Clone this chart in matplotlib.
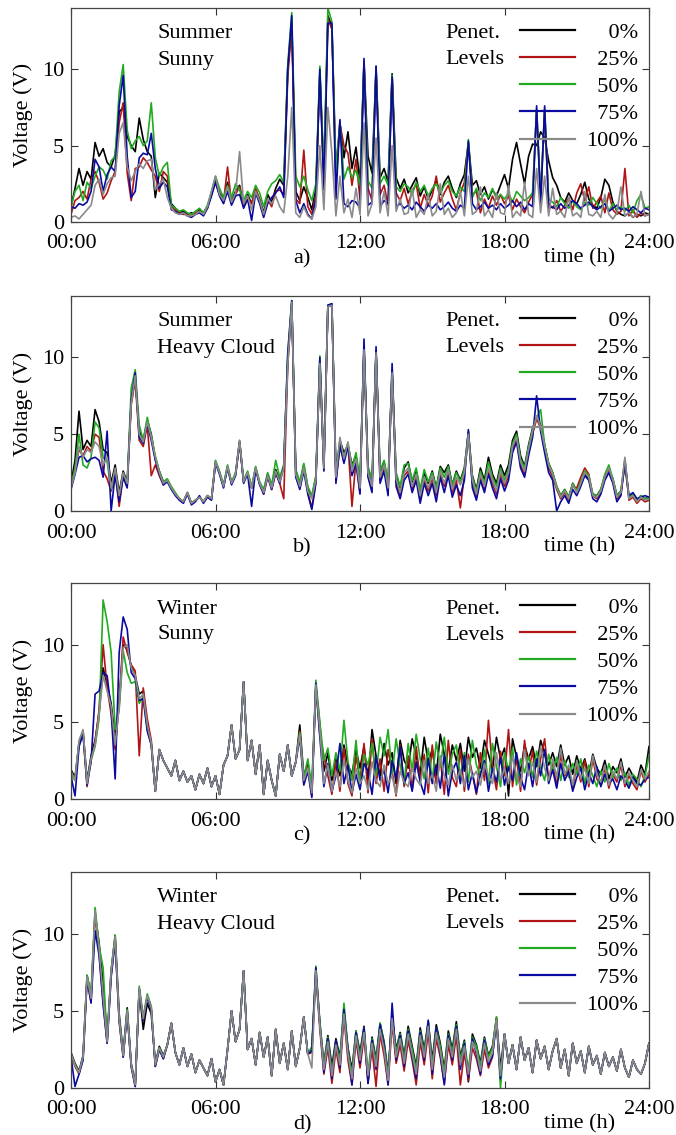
import numpy as np
import matplotlib
matplotlib.use('Agg')
import matplotlib.pyplot as plt

plt.rcParams['font.family'] = 'serif'
plt.rcParams['font.serif'] = ['Liberation Serif', 'DejaVu Serif']

# voltage samples every 10 min, 00:00 .. 24:00 (145 values per series)
levels = ['0%', '25%', '50%', '75%', '100%']
level_labels = ['    0%', '  25%', '  50%', '  75%', '100%']
colors = ['#000000', '#b01515', '#22aa22', '#0a0aa0', '#8a8a8a']
panel_titles = [('Summer', 'Sunny'), ('Summer', 'Heavy Cloud'), ('Winter', 'Sunny'), ('Winter', 'Heavy Cloud')]
panel_tags = ['a)', 'b)', 'c)', 'd)']
tick_hours = [0, 6, 12, 18, 24]
tick_names = ['00:00', '06:00', '12:00', '18:00', '24:00']

# ---- a) summer sunny
a_0 = [1.0, 2.2, 3.5, 2.4, 3.3, 2.8,
       5.2, 4.3, 4.8, 3.9, 3.6, 4.4,
       7.2, 7.5, 5.6, 5.0, 4.6, 6.8,
       5.4, 4.6, 4.3, 1.6, 3.2, 2.9,
       2.6, 1.2, 0.9, 0.6, 0.7, 0.5,
       0.6, 0.5, 0.8, 0.6, 1.0, 1.8,
       2.8, 1.9, 1.5, 2.6, 1.4, 2.0,
       2.4, 1.1, 1.8, 1.2, 2.1, 1.5,
       0.6, 1.8, 1.3, 2.2, 2.8, 2.4,
       10.0, 13.0, 2.0, 1.4, 2.3, 1.6,
       0.8, 2.2, 9.8, 3.0, 13.5, 12.8,
       2.6, 6.5, 4.2, 5.9, 3.5, 4.9,
       2.6, 10.4, 4.3, 3.2, 10.0, 2.9,
       3.5, 2.6, 9.7, 2.9, 2.2, 2.8,
       1.9, 2.4, 2.9, 1.7, 2.3, 1.5,
       2.1, 2.7, 1.8, 2.6, 3.0, 2.2,
       1.6, 2.5, 3.1, 5.2, 2.4, 2.7,
       1.8, 2.3, 1.5, 2.1, 1.7, 2.4,
       3.1, 2.2, 4.1, 5.2, 3.8, 2.5,
       4.3, 5.1, 5.0, 5.9, 5.5, 4.0,
       2.9, 2.4, 1.6, 1.3, 1.9, 1.4,
       1.2, 1.8, 2.6, 1.5, 1.1, 0.9,
       1.6, 2.8, 2.4, 1.3, 0.7, 0.5,
       0.4, 0.6, 0.3, 0.5, 0.4, 0.6,
       0.5]
a_25 = [0.5, 1.4, 1.6, 2.0, 1.5, 2.8,
        3.3, 2.6, 1.5, 1.9, 2.7, 3.3,
        6.5, 7.8, 3.2, 1.4, 3.5, 3.6,
        4.2, 3.9, 3.4, 3.0, 2.0, 3.3,
        3.0, 1.0, 0.8, 0.6, 0.5, 0.5,
        0.4, 0.6, 0.7, 0.5, 0.9, 1.9,
        2.6, 1.8, 1.3, 3.6, 1.2, 1.8,
        2.3, 1.0, 1.6, 1.2, 2.2, 1.4,
        0.4, 1.5, 1.0, 2.0, 2.1, 1.8,
        9.5, 12.8, 1.5, 1.2, 4.7, 1.0,
        0.5, 1.8, 9.6, 2.5, 13.3, 12.6,
        3.5, 6.4, 5.0, 4.5, 2.4, 4.1,
        1.5, 10.4, 2.2, 1.4, 10.0, 1.8,
        2.4, 1.1, 9.5, 1.9, 1.4, 2.2,
        1.2, 2.0, 2.5, 0.9, 1.8, 1.1,
        1.7, 3.0, 1.3, 1.9, 2.4, 1.5,
        0.8, 1.9, 2.6, 5.1, 1.8, 2.0,
        0.6, 1.5, 0.9, 1.7, 1.1, 1.8,
        1.2, 1.7, 0.8, 1.5, 1.0, 0.6,
        1.3, 1.8, 7.3, 1.5, 7.2, 1.2,
        0.9, 1.4, 0.7, 1.1, 1.6, 0.8,
        1.9, 2.5, 1.4, 2.3, 0.9, 1.3,
        1.7, 0.6, 1.9, 0.8, 0.5, 0.7,
        3.5, 0.4, 0.8, 0.3, 0.6, 0.4,
        0.5]
a_50 = [1.0, 2.0, 2.4, 1.4, 2.6, 2.2,
        3.0, 3.6, 3.4, 2.8, 4.0, 4.3,
        8.5, 10.3, 6.0, 4.8, 5.3, 5.6,
        5.0, 5.3, 7.8, 4.2, 3.0, 3.6,
        3.9, 1.1, 0.9, 0.7, 0.8, 0.6,
        0.5, 0.7, 0.9, 0.6, 1.1, 2.0,
        3.0, 2.2, 1.6, 2.4, 1.6, 2.5,
        2.1, 1.4, 2.0, 1.6, 2.4, 1.9,
        1.0, 2.0, 2.5, 2.7, 3.1, 2.6,
        10.3, 13.7, 3.0, 2.3, 3.0, 2.1,
        1.4, 2.5, 10.2, 3.4, 14.0, 13.1,
        3.2, 6.6, 2.8, 3.6, 2.9, 3.4,
        2.4, 10.5, 2.7, 2.2, 10.2, 2.5,
        3.0, 2.4, 9.6, 2.3, 2.0, 2.5,
        2.3, 1.8, 2.6, 2.0, 2.4, 1.7,
        2.2, 2.5, 1.9, 2.4, 2.7, 2.0,
        1.7, 2.3, 2.0, 5.4, 1.6, 2.2,
        1.4, 1.9, 1.6, 2.2, 1.5, 1.8,
        1.5, 1.9, 1.3, 2.0, 1.7, 1.4,
        1.6, 1.9, 7.4, 1.7, 7.4, 1.5,
        1.3, 1.0, 1.6, 1.2, 0.9, 1.4,
        1.0, 0.8, 1.3, 1.1, 1.6, 1.2,
        0.9, 1.5, 0.7, 1.2, 0.8, 1.0,
        0.7, 1.1, 0.6, 1.4, 1.8, 0.9,
        1.0]
a_75 = [1.0, 0.9, 1.2, 1.1, 1.3, 2.0,
        4.1, 3.6, 2.0, 3.1, 3.6, 3.3,
        7.6, 9.6, 4.3, 1.6, 2.0, 4.2,
        4.5, 4.4, 5.8, 3.5, 2.2, 2.6,
        2.3, 0.8, 0.7, 0.5, 0.6, 0.4,
        0.3, 0.5, 0.6, 0.4, 0.9, 1.7,
        2.6, 1.7, 1.2, 2.0, 1.1, 1.7,
        1.8, 0.9, 1.5, 0.1, 1.9, 1.2,
        0.3, 1.2, 1.6, 1.9, 2.3, 1.6,
        10.0, 13.5, 1.4, 0.6, 1.2, 0.5,
        0.2, 1.5, 10.0, 2.1, 13.0, 13.0,
        1.5, 6.7, 1.2, 1.0, 1.4, 1.3,
        0.9, 10.7, 1.1, 1.3, 10.2, 1.0,
        1.4, 1.2, 9.5, 1.0, 1.2, 0.9,
        1.1, 0.8, 1.3, 1.0, 0.7, 1.1,
        0.9, 1.2, 0.8, 1.0, 1.3, 0.9,
        0.7, 1.1, 0.9, 5.3, 1.2, 0.8,
        1.0, 1.3, 0.9, 1.1, 0.8, 1.2,
        0.9, 1.1, 1.4, 1.0, 1.3, 0.8,
        1.2, 1.0, 7.6, 1.1, 7.6, 0.9,
        1.0, 0.8, 1.2, 0.9, 1.1, 1.4,
        1.2, 0.9, 1.1, 1.3, 1.0, 0.8,
        1.0, 1.2, 0.7, 0.9, 1.1, 0.8,
        0.9, 0.7, 1.0, 0.8, 0.6, 0.9,
        0.8]
a_100 = [0.3, 0.4, 0.2, 0.5, 0.8, 1.1,
         2.4, 2.8, 1.8, 2.5, 2.9, 3.0,
         5.8, 6.5, 3.6, 2.7, 3.3, 3.8,
         3.5, 4.0, 4.1, 2.1, 2.5, 2.8,
         1.6, 0.9, 0.6, 0.5, 0.6, 0.4,
         0.4, 0.5, 0.7, 0.5, 1.0, 2.0,
         3.0, 1.8, 1.4, 2.3, 1.3, 1.9,
         4.6, 1.2, 1.7, 0.8, 2.0, 1.4,
         0.5, 1.5, 1.2, 1.7, 1.0, 0.6,
         3.0, 7.5, 0.6, 0.3, 1.0, 0.4,
         0.2, 1.0, 5.0, 0.8, 7.5, 4.5,
         0.4, 3.0, 0.6, 1.5, 0.3, 2.2,
         0.5, 6.5, 0.4, 1.2, 5.5, 0.6,
         2.0, 0.4, 5.0, 0.7, 1.5, 0.5,
         0.6, 2.2, 0.3, 0.8, 0.5, 1.8,
         0.4, 0.7, 2.5, 0.5, 0.9, 0.3,
         0.6, 2.0, 0.4, 3.0, 0.5, 0.7,
         2.3, 0.4, 0.8, 0.3, 1.9, 0.6,
         0.5, 2.4, 0.3, 0.7, 0.4, 2.6,
         0.5, 0.3, 3.5, 0.6, 3.0, 0.4,
         2.2, 0.5, 0.7, 0.3, 1.6, 0.4,
         0.6, 0.3, 2.0, 0.5, 0.4, 0.7,
         0.3, 1.8, 0.5, 0.2, 0.6, 2.3,
         0.4, 0.6, 0.3, 0.5, 2.0, 0.4,
         0.5]

# ---- b) summer heavy cloud
b_0 = [1.8, 3.3, 6.5, 4.0, 4.6, 4.2,
       6.6, 5.8, 4.0, 3.8, 1.8, 3.0,
       1.2, 2.6, 1.9, 7.2, 8.6, 5.2,
       4.6, 5.9, 5.0, 3.4, 2.6, 1.9,
       2.0, 1.5, 1.1, 0.8, 0.6, 1.2,
       0.5, 0.7, 0.9, 0.6, 1.0, 0.8,
       3.2, 2.5, 1.6, 2.9, 1.8, 2.4,
       4.5, 1.9, 2.5, 1.5, 2.8, 1.8,
       1.3, 2.4, 1.6, 2.7, 2.0, 2.9,
       9.8, 13.5, 2.6, 1.8, 3.0, 1.5,
       0.9, 2.2, 9.7, 3.0, 13.3, 13.4,
       2.5, 4.6, 3.8, 4.3, 3.0, 3.6,
       1.8, 10.6, 2.8, 1.9, 10.4, 2.5,
       3.2, 1.8, 9.1, 2.4, 1.5, 2.8,
       3.2, 1.9, 2.6, 1.3, 2.5, 1.8,
       2.6, 1.5, 2.9, 2.5, 3.0, 1.7,
       2.6, 2.0, 2.8, 5.1, 2.3, 1.4,
       2.8, 2.0, 3.5, 2.4, 1.8, 3.0,
       2.3, 3.0, 4.6, 5.2, 3.6, 2.9,
       4.3, 5.4, 6.1, 5.6, 4.3, 3.1,
       2.5, 1.6, 1.0, 1.4, 0.9, 1.8,
       1.3, 1.9, 2.4, 2.1, 1.1, 1.0,
       1.4, 2.3, 2.7, 2.1, 1.0, 1.3,
       3.0, 0.9, 1.1, 0.7, 1.0, 0.8,
       0.9]
b_25 = [1.6, 2.7, 4.0, 3.6, 4.2, 3.9,
        5.0, 4.8, 2.6, 2.1, 1.3, 2.5,
        0.3, 2.3, 1.6, 6.9, 8.5, 4.6,
        4.2, 5.6, 2.3, 3.0, 2.3, 1.7,
        2.0, 1.5, 1.1, 0.8, 0.6, 1.2,
        0.5, 0.7, 0.9, 0.6, 1.0, 0.8,
        3.2, 2.5, 1.6, 2.9, 1.8, 2.4,
        4.5, 1.9, 2.5, 1.5, 2.8, 1.8,
        1.1, 2.2, 1.4, 2.5, 1.8, 0.8,
        9.5, 13.5, 2.3, 1.5, 2.9, 1.2,
        0.2, 1.9, 9.6, 2.7, 13.3, 13.4,
        2.0, 4.2, 3.3, 4.4, 0.3, 3.3,
        1.2, 10.5, 2.3, 1.4, 10.3, 2.0,
        2.8, 1.3, 9.0, 1.9, 1.0, 2.3,
        2.6, 1.4, 2.2, 0.8, 2.0, 1.3,
        2.1, 1.0, 2.4, 1.6, 2.5, 1.2,
        2.0, 0.2, 2.3, 5.0, 1.8, 0.9,
        2.2, 1.4, 2.6, 1.8, 1.1, 2.4,
        1.6, 2.3, 4.0, 4.7, 3.0, 2.4,
        3.8, 5.0, 6.0, 5.4, 4.0, 2.8,
        2.2, 1.4, 0.8, 1.2, 0.7, 1.6,
        1.5, 2.2, 2.8, 2.4, 1.0, 0.8,
        1.2, 2.1, 2.6, 1.9, 0.8, 1.1,
        3.3, 0.7, 0.9, 0.5, 0.8, 0.6,
        0.7]
b_50 = [1.7, 2.8, 5.0, 3.0, 2.8, 3.5,
        5.8, 5.4, 3.5, 3.2, 1.4, 2.7,
        0.8, 2.4, 1.7, 8.0, 9.2, 5.6,
        4.6, 6.1, 4.9, 3.6, 2.6, 1.9,
        2.1, 1.6, 1.2, 0.8, 0.6, 1.2,
        0.5, 0.7, 0.9, 0.6, 1.0, 0.8,
        3.3, 2.6, 1.7, 3.0, 1.9, 2.5,
        4.6, 2.0, 2.6, 1.6, 2.9, 1.9,
        1.4, 2.5, 1.7, 3.3, 2.2, 3.0,
        10.3, 13.7, 2.7, 1.9, 3.1, 1.6,
        1.0, 2.3, 10.1, 3.1, 13.4, 13.5,
        2.6, 4.0, 3.6, 4.4, 2.8, 3.8,
        2.0, 10.6, 2.9, 2.0, 10.4, 2.6,
        3.3, 1.9, 9.1, 2.5, 1.6, 3.0,
        3.1, 2.0, 2.8, 1.4, 2.7, 1.9,
        2.5, 1.5, 2.8, 2.2, 2.9, 1.7,
        2.5, 1.9, 2.7, 5.2, 2.2, 1.3,
        2.6, 1.8, 3.2, 2.2, 1.6, 2.8,
        2.0, 2.7, 4.4, 5.0, 3.4, 2.8,
        4.2, 5.3, 6.1, 6.6, 4.3, 3.1,
        2.5, 1.6, 1.0, 1.4, 0.9, 1.8,
        1.3, 1.9, 2.6, 2.3, 1.1, 1.0,
        1.4, 2.4, 3.0, 2.1, 1.0, 1.3,
        3.4, 0.9, 1.1, 0.7, 1.0, 0.8,
        0.9]
b_75 = [1.4, 2.4, 3.5, 3.6, 3.2, 3.4,
        3.5, 3.3, 2.2, 5.2, 0.0, 2.4,
        0.6, 2.2, 1.5, 7.2, 9.0, 4.8,
        4.4, 5.7, 4.6, 3.3, 2.4, 1.7,
        1.9, 1.4, 1.0, 0.7, 0.5, 1.1,
        0.4, 0.6, 1.0, 0.5, 0.9, 0.7,
        3.1, 2.4, 1.5, 2.8, 1.7, 2.3,
        4.5, 1.8, 2.4, 0.3, 2.7, 1.7,
        1.1, 2.3, 1.4, 2.5, 1.8, 2.9,
        10.2, 13.7, 2.2, 1.4, 2.6, 1.1,
        0.1, 1.8, 10.0, 2.6, 13.4, 13.5,
        1.8, 4.3, 3.1, 4.2, 2.3, 3.1,
        1.1, 11.2, 2.2, 1.2, 10.7, 1.8,
        2.6, 1.0, 9.6, 1.6, 0.8, 2.0,
        2.4, 1.2, 2.0, 0.5, 1.8, 1.0,
        1.8, 0.6, 2.2, 1.2, 2.3, 0.9,
        1.7, 1.0, 2.0, 5.3, 1.5, 0.7,
        2.0, 1.2, 2.4, 1.5, 0.8, 2.1,
        1.3, 2.0, 3.8, 4.5, 2.8, 2.2,
        3.6, 4.8, 7.5, 5.2, 3.8, 2.5,
        2.0, 0.0, 0.6, 1.0, 0.5, 1.4,
        1.0, 1.6, 2.3, 2.0, 0.8, 0.6,
        1.1, 2.0, 2.5, 1.8, 0.6, 1.0,
        3.2, 1.0, 1.2, 0.8, 0.9, 1.0,
        0.9]
b_100 = [1.5, 2.5, 4.2, 3.5, 4.0, 3.8,
         4.5, 4.2, 3.0, 3.5, 1.5, 2.8,
         1.0, 2.5, 1.8, 7.0, 8.8, 5.0,
         4.5, 5.8, 4.8, 3.5, 2.5, 1.8,
         2.0, 1.5, 1.1, 0.8, 0.6, 1.2,
         0.5, 0.7, 0.9, 0.6, 1.0, 0.8,
         3.2, 2.5, 1.6, 2.9, 1.8, 2.4,
         4.6, 1.9, 2.5, 1.5, 2.8, 1.8,
         1.2, 2.3, 1.5, 2.6, 1.9, 2.8,
         9.5, 13.6, 2.4, 1.6, 2.8, 1.3,
         0.8, 2.0, 9.6, 2.8, 13.3, 13.4,
         2.2, 4.8, 3.4, 4.5, 2.6, 3.4,
         1.5, 10.5, 2.5, 1.6, 10.3, 2.2,
         3.0, 1.5, 9.0, 2.1, 1.2, 2.5,
         2.8, 1.6, 2.4, 1.0, 2.2, 1.5,
         2.3, 1.2, 2.6, 1.8, 2.7, 1.4,
         2.2, 1.7, 2.5, 5.0, 2.0, 1.1,
         2.4, 1.6, 2.8, 2.0, 1.3, 2.6,
         1.8, 2.5, 4.2, 4.8, 3.2, 2.6,
         4.0, 5.2, 6.2, 5.5, 4.2, 3.0,
         2.4, 1.5, 0.9, 1.3, 0.8, 1.7,
         1.2, 1.8, 2.5, 2.2, 1.0, 0.9,
         1.3, 2.2, 2.8, 2.0, 0.9, 1.2,
         3.5, 0.8, 1.0, 0.6, 0.9, 0.7,
         0.8]

# ---- c) winter sunny; 04:00-08:50 all levels coincide
c_shared = [2.0, 1.5, 2.5, 1.2, 1.8, 1.1,
            1.5, 0.6, 1.6, 1.0, 2.0, 0.8,
            1.5, 0.3, 2.2, 2.8, 4.8, 2.6,
            3.2, 7.6, 2.5, 3.8, 1.6, 3.5,
            0.3, 2.5, 1.2, 0.2, 2.9, 1.8]
c_0 = [1.9, 1.4, 3.6, 4.4, 1.2, 2.8,
       3.8, 5.6, 8.5, 7.4, 6.2, 4.0,
       6.3, 10.0, 9.7, 8.6, 8.0, 6.8,
       7.0, 4.6, 3.6, 0.5, 3.2, 2.5] + c_shared + [
       3.5, 1.5, 2.4, 4.8, 1.5, 2.3,
       0.6, 7.3, 4.8, 1.8, 3.0, 1.2,
       2.6, 1.5, 3.5, 2.2, 1.6, 3.2,
       2.0, 3.4, 1.2, 4.5, 2.8, 1.5,
       3.6, 2.2, 3.0, 1.0, 3.8, 2.5,
       2.0, 3.9, 2.8, 1.6, 4.0, 2.4,
       3.2, 1.5, 4.2, 2.9, 1.8, 3.5,
       2.5, 3.6, 1.8, 4.0, 2.7, 3.3,
       2.0, 3.8, 2.9, 1.9, 4.0, 2.6,
       3.3, 0.2, 3.9, 2.7, 1.8, 3.5,
       2.6, 3.4, 2.1, 3.8, 3.0, 2.2,
       3.0, 2.1, 3.5, 2.2, 2.8, 1.6,
       2.8, 1.9, 2.6, 1.5, 2.9, 2.0,
       1.6, 2.5, 1.3, 2.1, 1.7, 2.6,
       1.4, 2.0, 1.5, 1.1, 2.2, 1.6,
       3.4]
c_25 = [1.7, 1.3, 3.5, 4.3, 0.8, 2.7,
        3.6, 5.8, 10.0, 7.2, 5.5, 3.2,
        6.2, 10.5, 9.5, 8.7, 8.3, 2.8,
        7.2, 5.2, 3.8, 0.5, 3.2, 2.5] + c_shared + [
        3.5, 1.5, 2.4, 4.4, 1.0, 2.1,
        0.2, 7.2, 4.2, 2.8, 1.5, 0.3,
        2.4, 0.5, 3.3, 1.0, 0.2, 2.8,
        1.2, 3.6, 0.4, 3.9, 1.0, 2.6,
        0.5, 3.2, 1.8, 0.2, 3.5, 0.8,
        2.8, 0.6, 3.4, 1.2, 2.9, 0.4,
        3.5, 1.0, 2.6, 0.3, 3.8, 1.4,
        0.8, 3.2, 0.5, 2.9, 1.6, 0.3,
        3.0, 1.2, 5.1, 2.0, 0.6, 3.1,
        1.5, 4.5, 0.8, 2.7, 0.5, 3.8,
        1.8, 3.1, 0.9, 2.6, 3.9, 1.2,
        2.4, 0.8, 2.9, 1.5, 2.0, 0.7,
        2.2, 1.1, 2.5, 0.8, 2.6, 1.3,
        0.9, 2.0, 0.7, 1.6, 1.1, 2.2,
        0.8, 1.5, 1.0, 0.6, 1.8, 1.1,
        1.6]
c_50 = [1.6, 1.2, 3.7, 4.4, 1.1, 2.5,
        3.4, 5.2, 12.9, 11.5, 9.5, 4.5,
        5.8, 9.6, 8.2, 7.5, 7.6, 6.2,
        6.6, 4.5, 3.5, 0.5, 3.2, 2.5] + c_shared + [
        3.5, 1.5, 2.4, 4.3, 1.4, 2.6,
        0.8, 7.7, 5.0, 2.5, 3.3, 1.5,
        3.0, 1.8, 5.1, 2.4, 1.2, 3.8,
        0.9, 2.9, 2.2, 3.6, 1.5, 4.0,
        2.8, 4.5, 1.6, 3.9, 2.2, 1.0,
        3.6, 1.8, 4.2, 2.6, 1.3, 3.3,
        1.2, 3.7, 2.1, 4.0, 1.6, 2.9,
        3.5, 1.4, 3.0, 1.1, 3.8, 2.2,
        1.5, 3.2, 1.0, 3.6, 2.1, 0.8,
        3.0, 1.8, 3.3, 0.9, 2.6, 1.7,
        2.8, 1.4, 3.1, 2.0, 1.2, 2.9,
        1.8, 2.7, 1.2, 2.5, 1.4, 2.3,
        1.6, 2.6, 1.0, 2.2, 1.5, 0.8,
        1.8, 1.1, 2.3, 1.4, 2.0, 1.2,
        1.7, 0.9, 1.6, 1.3, 0.8, 1.5,
        2.8]
c_75 = [1.5, 0.2, 3.4, 4.2, 0.9, 2.4,
        6.8, 7.0, 8.2, 8.0, 5.8, 1.3,
        9.5, 11.8, 11.0, 8.2, 7.8, 6.4,
        6.5, 4.4, 3.5, 0.5, 3.2, 2.5] + c_shared + [
        3.5, 1.5, 2.4, 4.0, 0.9, 1.8,
        0.1, 7.5, 4.0, 0.8, 2.3, 0.5,
        1.5, 3.6, 1.0, 2.2, 0.4, 1.6,
        0.6, 2.3, 1.8, 0.3, 2.8, 1.2,
        1.9, 0.4, 2.5, 1.3, 3.4, 1.0,
        1.7, 0.5, 2.4, 1.1, 0.3, 2.6,
        1.0, 2.2, 0.7, 2.9, 0.2, 1.8,
        2.4, 1.0, 2.8, 0.6, 1.7, 0.4,
        1.6, 2.5, 0.5, 2.0, 1.1, 2.7,
        0.9, 2.1, 1.2, 3.0, 1.4, 0.6,
        2.3, 0.8, 2.6, 1.5, 3.2, 1.0,
        1.9, 0.7, 2.3, 1.2, 1.8, 0.5,
        1.4, 2.0, 0.6, 1.7, 1.0, 2.1,
        0.8, 1.6, 1.0, 1.3, 0.6, 1.5,
        1.2, 0.7, 1.4, 1.0, 0.9, 1.3,
        1.4]
c_100 = [1.8, 1.2, 3.8, 4.5, 1.0, 2.6,
         3.5, 5.5, 8.0, 7.0, 6.0, 3.5,
         6.0, 9.8, 10.0, 8.5, 8.0, 6.5,
         6.8, 4.8, 3.6, 0.5, 3.2, 2.5] + c_shared + [
         3.5, 1.5, 2.4, 4.2, 1.2, 2.0,
         0.4, 7.4, 4.5, 1.0, 2.2, 0.5,
         1.8, 0.8, 2.5, 1.2, 0.4, 2.0,
         1.0, 1.5, 0.6, 2.4, 1.2, 0.8,
         2.2, 1.0, 1.5, 0.3, 1.8, 1.1,
         0.8, 2.0, 1.3, 0.9, 2.5, 1.0,
         1.6, 0.5, 2.8, 1.5, 0.9, 2.2,
         1.2, 1.9, 0.8, 2.6, 1.4, 1.8,
         0.9, 2.3, 1.5, 1.0, 3.0, 1.2,
         2.0, 1.0, 2.8, 1.5, 0.8, 3.2,
         1.5, 2.4, 1.1, 3.4, 2.0, 1.2,
         2.6, 1.4, 3.3, 1.6, 2.2, 0.9,
         2.5, 1.3, 2.0, 1.0, 2.8, 1.6,
         1.1, 2.2, 0.9, 1.8, 1.3, 2.4,
         1.0, 1.7, 1.2, 0.8, 1.9, 1.3,
         1.8]

# ---- d) winter heavy cloud; levels coincide 04:00-09:50 and after 18:00
d_shared_mid = [2.8, 4.2, 2.3, 1.5, 2.6, 1.4,
                2.2, 1.0, 1.8, 1.3, 0.8, 1.9,
                0.4, 1.2, 0.2, 2.5, 5.0, 3.0,
                3.8, 7.6, 2.5, 3.2, 1.5, 3.6,
                2.0, 3.3, 0.8, 3.8, 1.6, 2.9,
                1.2, 3.7, 1.4, 2.6, 4.6, 2.2]
d_shared_late = [3.5, 1.6, 2.8, 1.2, 3.3, 1.8,
                 2.6, 1.0, 3.1, 1.9, 2.7, 1.2,
                 2.4, 3.2, 1.3, 2.5, 0.8, 2.9,
                 1.6, 2.4, 1.0, 2.7, 1.5, 2.1,
                 0.9, 2.3, 1.4, 2.0, 1.1, 2.5,
                 1.3, 0.7, 1.8, 1.2, 0.9, 1.6,
                 2.9]
d_0 = [2.3, 1.6, 1.1, 2.1, 7.3, 6.0,
       11.3, 9.4, 6.8, 3.2, 7.6, 9.9,
       4.8, 2.3, 5.2, 1.6, 0.3, 6.4,
       3.8, 5.5, 4.8, 1.6, 2.7, 2.1] + d_shared_mid + [
       2.5, 7.5, 4.2, 1.6, 3.4, 1.4,
       3.2, 2.0, 5.1, 2.6, 1.2, 3.7,
       2.3, 4.0, 0.3, 3.3, 1.9, 4.2,
       3.0, 1.0, 4.6, 2.5, 3.6, 2.1,
       4.0, 2.7, 1.4, 3.9, 2.5, 4.3,
       1.8, 4.1, 2.9, 1.2, 3.7, 2.5,
       4.3, 2.0, 3.1, 0.4, 3.5, 2.8,
       1.6, 3.3, 2.1, 2.7, 4.5, 1.3] + d_shared_late
d_25 = [2.1, 1.4, 0.9, 1.9, 7.1, 5.6,
        11.4, 8.7, 5.6, 2.9, 7.3, 9.6,
        4.3, 2.0, 4.9, 1.4, 0.1, 6.4,
        4.4, 5.9, 5.1, 1.4, 2.5, 1.9] + d_shared_mid + [
        2.3, 7.4, 3.8, 0.9, 2.6, 0.3,
        2.5, 1.0, 4.6, 1.8, 0.2, 3.1,
        1.3, 3.3, 0.5, 2.5, 0.1, 3.5,
        2.1, 0.2, 4.2, 1.6, 2.8, 1.1,
        3.1, 1.8, 0.2, 3.0, 1.5, 3.6,
        0.6, 3.2, 2.0, 0.3, 2.8, 1.5,
        3.4, 0.2, 2.3, 0.5, 2.6, 1.9,
        0.8, 2.5, 1.3, 2.0, 4.6, 0.5] + d_shared_late
d_50 = [2.2, 1.5, 1.0, 2.0, 7.3, 6.1,
        11.7, 9.2, 7.8, 3.1, 7.6, 9.9,
        4.6, 2.2, 5.1, 1.5, 0.2, 6.6,
        4.6, 6.1, 5.3, 1.5, 2.6, 2.0] + d_shared_mid + [
        2.7, 7.9, 4.3, 1.5, 3.3, 1.0,
        3.0, 1.8, 5.5, 2.5, 0.9, 3.7,
        2.0, 3.9, 1.0, 3.2, 1.7, 4.2,
        2.8, 0.8, 4.8, 2.3, 3.5, 1.9,
        3.8, 2.5, 1.2, 3.7, 2.3, 4.3,
        1.5, 3.9, 2.7, 1.0, 3.5, 2.3,
        4.1, 1.8, 3.0, 1.2, 3.3, 2.7,
        1.4, 3.2, 2.0, 2.6, 4.6, 0.0] + d_shared_late
d_75 = [2.0, 0.1, 0.9, 1.8, 7.0, 5.5,
        10.2, 8.6, 5.4, 2.9, 7.2, 9.5,
        4.4, 2.0, 4.9, 1.4, 0.1, 6.4,
        4.4, 5.9, 5.1, 1.4, 2.5, 1.9] + d_shared_mid + [
        2.4, 7.8, 4.1, 1.0, 3.2, 0.6,
        3.1, 1.3, 5.1, 2.4, 0.2, 3.6,
        1.6, 3.9, 0.3, 3.1, 1.2, 4.1,
        2.7, 0.2, 5.5, 1.8, 3.4, 1.4,
        3.7, 2.0, 0.6, 3.6, 1.8, 4.4,
        0.9, 3.9, 2.2, 0.2, 3.4, 1.8,
        4.0, 1.2, 2.9, 0.7, 3.2, 2.2,
        0.9, 3.1, 1.5, 2.1, 4.2, 0.6] + d_shared_late
d_100 = [2.2, 1.5, 1.0, 2.0, 7.2, 5.8,
         11.5, 9.0, 6.0, 3.0, 7.5, 9.8,
         4.5, 2.1, 5.0, 1.5, 0.2, 6.5,
         4.5, 6.0, 5.2, 1.5, 2.6, 2.0] + d_shared_mid + [
         1.3, 7.6, 4.0, 1.2, 3.0, 0.8,
         2.8, 1.5, 4.8, 2.2, 0.6, 3.4,
         1.8, 3.6, 0.8, 2.9, 1.4, 3.8,
         2.5, 0.5, 4.5, 2.0, 3.2, 1.6,
         3.5, 2.2, 0.9, 3.4, 2.0, 4.0,
         1.2, 3.6, 2.4, 0.7, 3.2, 2.0,
         3.8, 1.5, 2.7, 0.9, 3.0, 2.4,
         1.1, 2.9, 1.7, 2.3, 4.4, 0.8] + d_shared_late

panels = [
    [a_0, a_25, a_50, a_75, a_100],
    [b_0, b_25, b_50, b_75, b_100],
    [c_0, c_25, c_50, c_75, c_100],
    [d_0, d_25, d_50, d_75, d_100],
]

W, H = 676, 1135
fig = plt.figure(figsize=(W / 100, H / 100), dpi=100)

# axes boxes in pixels: (top, bottom)
boxes = [(8, 222), (296, 511), (583, 799), (872, 1088)]
left_px, right_px = 71, 649

for k, series in enumerate(panels):
    top, bot = boxes[k]
    hpx = bot - top
    ax = fig.add_axes([left_px / W, 1 - bot / H, (right_px - left_px) / W, hpx / H])
    lines = []
    for vals, col, lab in zip(series, colors, level_labels):
        t = np.linspace(0, 24, len(vals))
        ln, = ax.plot(t, vals, color=col, lw=1.2, label=lab)
        lines.append(ln)

    ax.set_xlim(0, 24)
    ax.set_ylim(0, 14)
    ax.set_xticks(tick_hours)
    ax.set_xticklabels(tick_names)
    ax.set_yticks([0, 5, 10])
    ax.tick_params(direction='in', top=True, right=True, length=5, width=0.8,
                   labelsize=16, color='#333333')
    ax.tick_params(axis='x', pad=9)
    ax.tick_params(axis='y', pad=5)
    for sp in ax.spines.values():
        sp.set_color('#444444')
        sp.set_linewidth(0.9)
    ax.set_ylabel('Voltage (V)', fontsize=16, labelpad=6)

    # header texts, one line each (pixel offsets from panel top)
    l1 = 1 - 26 / hpx
    l2 = 1 - 52 / hpx
    ax.text(0.149, l1, panel_titles[k][0], transform=ax.transAxes, fontsize=16,
            ha='left', va='center')
    ax.text(0.149, l2, panel_titles[k][1], transform=ax.transAxes, fontsize=16,
            ha='left', va='center')
    ax.text(0.647, l1, 'Penet.', transform=ax.transAxes, fontsize=16,
            ha='left', va='center')
    ax.text(0.647, l2, 'Levels', transform=ax.transAxes, fontsize=16,
            ha='left', va='center')
    leg = ax.legend(handles=lines, loc='upper right', bbox_to_anchor=(0.981, 1 - 14 / hpx),
                    frameon=False, fontsize=16, handlelength=2.45, handletextpad=0.5,
                    labelspacing=0.30, borderpad=0, borderaxespad=0)
    for ln in leg.get_lines():
        ln.set_linewidth(1.6)

    ax.text(0.88, -36 / hpx, 'time (h)', transform=ax.transAxes, fontsize=16,
            ha='center', va='center')
    ax.text(0.40, -37 / hpx, panel_tags[k], transform=ax.transAxes, fontsize=16,
            ha='center', va='center')

fig.savefig('out.png', dpi=100)
